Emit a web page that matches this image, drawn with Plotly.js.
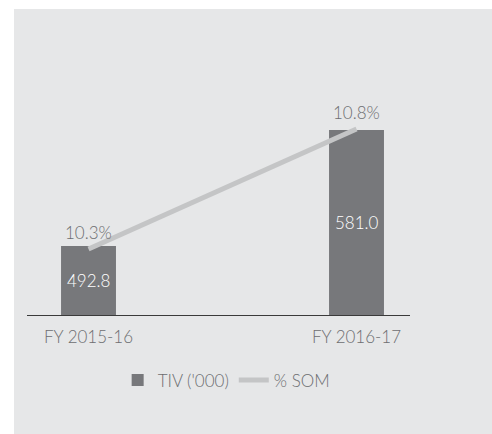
<!DOCTYPE html>
<html>
<head>
<meta charset="utf-8">
<script src="https://cdn.plot.ly/plotly-3.0.1.min.js"></script>
<style>html,body{margin:0;padding:0;background:#fff;}#chart{width:492px;height:434px;}</style>
</head>
<body>
<div id="chart"></div>
<script>
const categories = ["FY 2015-16", "FY 2016-17"];
const tivValues = [492.8, 581.0];
const somValues = [10.3, 10.8];
const tivName = "TIV ('000)";
const somName = "% SOM";

const textColor = "#6d6e71";
const font = "Lato, 'Open Sans', sans-serif";
const yRange = [440.3, 657];
const y2Range = [10.025, 11.2125];

const traces = [
  {
    type: "bar",
    x: [0, 1],
    y: tivValues,
    name: tivName,
    width: 0.205,
    marker: {color: "#77787b"},
    hoverinfo: "skip"
  },
  {
    type: "scatter",
    mode: "lines",
    x: [0, 1],
    y: somValues,
    name: somName,
    yaxis: "y2",
    line: {color: "#c4c5c6", width: 5},
    hoverinfo: "skip"
  }
];

const annotations = [];
tivValues.forEach((v, i) => {
  annotations.push({
    x: i, y: (yRange[0] + v) / 2, xref: "x", yref: "y",
    text: v.toFixed(1), showarrow: false,
    xanchor: "center", yanchor: "middle",
    font: {color: "#ffffff", size: 17, family: font, weight: 300}
  });
});
somValues.forEach((v, i) => {
  annotations.push({
    x: i, y: v, xref: "x", yref: "y2",
    text: v.toFixed(1) + "%", showarrow: false,
    xanchor: "center", yanchor: "middle", yshift: 17,
    font: {color: textColor, size: 17, family: font, weight: 300}
  });
});

const layout = {
  width: 492,
  height: 434,
  margin: {l: 27, r: 82, t: 30, b: 119},
  paper_bgcolor: "#ffffff",
  plot_bgcolor: "rgba(0,0,0,0)",
  showlegend: true,
  font: {family: font, color: textColor, weight: 300},
  xaxis: {
    range: [-0.2295, 1.1996],
    tickvals: [0, 1],
    ticktext: categories,
    showline: true,
    linecolor: "#3a3a3a",
    linewidth: 1,
    ticks: "",
    ticklabelstandoff: 7,
    showgrid: false,
    zeroline: false,
    tickfont: {size: 17, color: textColor, family: font, weight: 300},
    fixedrange: true
  },
  yaxis: {
    range: yRange,
    visible: false,
    showgrid: false,
    zeroline: false
  },
  yaxis2: {
    range: y2Range,
    overlaying: "y",
    side: "right",
    visible: false,
    showgrid: false,
    zeroline: false
  },
  legend: {
    orientation: "h",
    x: 0.52,
    xanchor: "center",
    y: -0.23,
    yanchor: "middle",
    font: {size: 17, color: textColor, family: font, weight: 300},
    bgcolor: "rgba(0,0,0,0)",
    itemwidth: 30,
    traceorder: "normal"
  },
  annotations: annotations,
  shapes: [
    {
      type: "rect",
      xref: "paper", yref: "paper",
      x0: -0.034, x1: 1.22,
      y0: -0.42, y1: 1.0737,
      fillcolor: "#e6e7e8",
      line: {width: 0},
      layer: "below"
    }
  ]
};

Plotly.newPlot("chart", traces, layout, {displayModeBar: false, staticPlot: true});
</script>
</body>
</html>
